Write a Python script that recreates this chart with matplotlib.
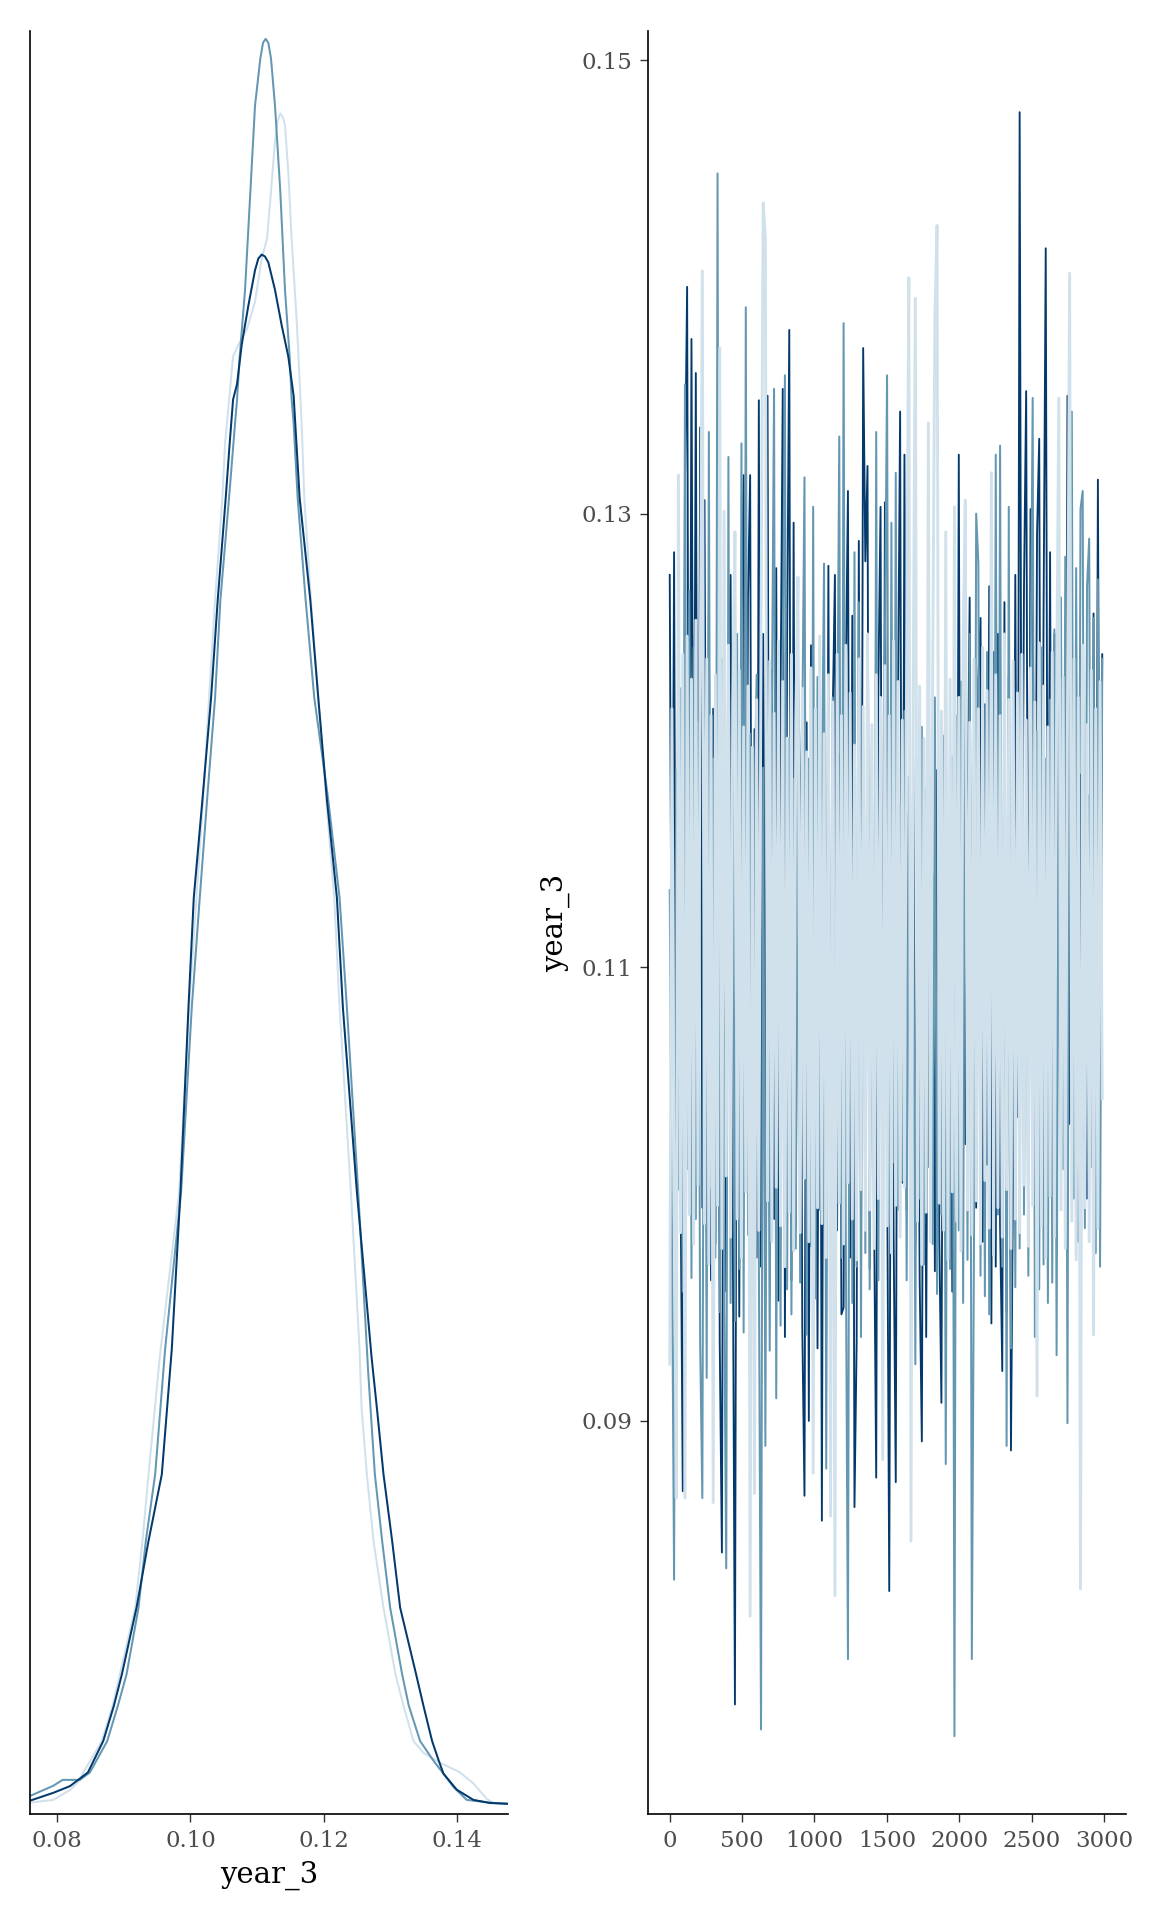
import numpy as np
import matplotlib
matplotlib.use("Agg")
import matplotlib.pyplot as plt

plt.rcParams['font.family'] = ['DejaVu Serif']

param = "year_3"
chain_colors = ["#d1e1ec", "#6497b1", "#03396c"]  # chain 1 (light), 2 (mid), 3 (dark)

# ---- density overlay ----
dens_x_light = [0.0759, 0.0794, 0.0819, 0.0834, 0.0839, 0.0867, 0.0883, 0.0894, 0.0917, 0.0928,
                0.0937, 0.0954, 0.0983, 0.0998, 0.1009, 0.1019, 0.1028, 0.1037, 0.1048, 0.1052,
                0.1057, 0.1064, 0.1072, 0.1085, 0.1097, 0.1107, 0.1115, 0.1121, 0.1127, 0.1131,
                0.1135, 0.1139, 0.1142, 0.1147, 0.1152, 0.1160, 0.1167, 0.1171, 0.1181, 0.1192,
                0.1204, 0.1216, 0.1224, 0.1241, 0.1254, 0.1257, 0.1265, 0.1275, 0.1290, 0.1308,
                0.1320, 0.1335, 0.1350, 0.1375, 0.1405, 0.1425, 0.1445, 0.1455, 0.1477]
dens_y_light = [0.03, 0.10, 0.35, 0.60, 0.80, 1.6, 2.5, 3.3, 5.0, 6.7,
                8.4, 11.4, 15.6, 20.3, 23.1, 25.6, 28.2, 30.7, 33.3, 34.7,
                35.6, 36.9, 37.2, 37.6, 38.3, 39.4, 39.9, 41.1, 42.4, 42.9,
                43.1, 43.0, 42.8, 41.6, 39.9, 37.7, 35.2, 33.3, 30.7, 28.2,
                25.6, 23.1, 20.3, 15.6, 11.6, 10.1, 8.4, 6.7, 5.0, 3.3,
                2.5, 1.6, 1.3, 1.05, 0.80, 0.52, 0.13, 0.02, 0.0]

dens_x_mid = [0.0759, 0.0794, 0.0808, 0.0834, 0.0849, 0.0875, 0.0891, 0.0904, 0.0922, 0.0933,
              0.0947, 0.0962, 0.0986, 0.1002, 0.1014, 0.1025, 0.1037, 0.1045, 0.1058, 0.1067,
              0.1070, 0.1074, 0.1082, 0.1090, 0.1097, 0.1105, 0.1109, 0.1113, 0.1117, 0.1121,
              0.1127, 0.1135, 0.1142, 0.1149, 0.1152, 0.1155, 0.1161, 0.1173, 0.1186, 0.1207,
              0.1224, 0.1235, 0.1252, 0.1267, 0.1277, 0.1288, 0.1300, 0.1318, 0.1328, 0.1345,
              0.1365, 0.1380, 0.1395, 0.1415, 0.1450, 0.1477]
dens_y_mid = [0.20, 0.46, 0.61, 0.61, 0.80, 1.6, 2.5, 3.3, 5.0, 6.7,
              8.4, 11.6, 15.6, 20.3, 23.1, 25.6, 28.2, 30.7, 33.3, 35.2,
              35.8, 36.9, 38.6, 41.1, 43.3, 44.5, 44.9, 45.0, 44.9, 44.5,
              43.3, 41.1, 38.6, 36.9, 35.8, 35.2, 33.3, 30.7, 28.2, 25.6,
              23.1, 20.3, 15.6, 11.0, 8.4, 6.7, 5.0, 3.3, 2.5, 1.6,
              1.1, 0.77, 0.43, 0.10, 0.03, 0.0]

dens_x_dark = [0.0759, 0.0794, 0.0819, 0.0846, 0.0869, 0.0885, 0.0897, 0.0919, 0.0937, 0.0957,
               0.0972, 0.0985, 0.0997, 0.1005, 0.1018, 0.1031, 0.1041, 0.1053, 0.1059, 0.1064,
               0.1070, 0.1077, 0.1087, 0.1097, 0.1102, 0.1107, 0.1112, 0.1117, 0.1127, 0.1137,
               0.1147, 0.1155, 0.1164, 0.1180, 0.1192, 0.1205, 0.1220, 0.1229, 0.1250, 0.1272,
               0.1280, 0.1290, 0.1303, 0.1315, 0.1339, 0.1350, 0.1363, 0.1373, 0.1380, 0.1400,
               0.1425, 0.1450, 0.1477]
dens_y_dark = [0.08, 0.28, 0.45, 0.80, 1.6, 2.5, 3.3, 5.0, 6.7, 8.4,
               11.6, 15.6, 20.3, 23.1, 25.6, 28.2, 30.7, 33.3, 34.7, 35.8,
               36.2, 37.2, 38.2, 39.1, 39.4, 39.5, 39.45, 39.3, 38.6, 37.7,
               36.9, 35.9, 33.3, 30.7, 28.2, 25.6, 23.1, 20.3, 15.6, 11.4,
               10.1, 8.4, 6.7, 5.0, 3.3, 2.5, 1.6, 1.1, 0.77, 0.36,
               0.10, 0.02, 0.0]

# ---- trace (envelope, every 15th iteration) ----
iterations = np.arange(1, 3001, 15)

trace_dark = [
    0.1273, 0.1052, 0.1283, 0.0981, 0.1280, 0.1003, 0.0869, 0.1312, 0.1400, 0.1048,
    0.1377, 0.1096, 0.1362, 0.1021, 0.1338, 0.0994, 0.1306, 0.1067, 0.1259, 0.0962,
    0.1214, 0.0978, 0.1238, 0.0935, 0.0842, 0.1191, 0.0957, 0.1226, 0.1273, 0.0988,
    0.0775, 0.1182, 0.0946, 0.1249, 0.1317, 0.1002, 0.1263, 0.1317, 0.0969, 0.1205,
    0.0972, 0.1350, 0.0968, 0.1247, 0.1006, 0.1352, 0.1008, 0.1231, 0.0989, 0.1276,
    0.0953, 0.1218, 0.1355, 0.0937, 0.1244, 0.1381, 0.0962, 0.1296, 0.0985, 0.1229,
    0.1183, 0.0941, 0.0867, 0.1208, 0.0900, 0.1242, 0.0976, 0.1163, 0.0932, 0.1225,
    0.0856, 0.1187, 0.0991, 0.1277, 0.0958, 0.1212, 0.1273, 0.0984, 0.1194, 0.0947,
    0.0950, 0.1226, 0.1310, 0.0972, 0.1255, 0.0862, 0.0935, 0.1288, 0.1001, 0.1373,
    0.1279, 0.1321, 0.0967, 0.1196, 0.0993, 0.0875, 0.1224, 0.1303, 0.0969, 0.1305,
    0.1018, 0.0825, 0.1174, 0.0983, 0.0873, 0.1212, 0.1345, 0.1005, 0.1326, 0.0993,
    0.1168, 0.1031, 0.1193, 0.0978, 0.1157, 0.0962, 0.0891, 0.1183, 0.0937, 0.1139,
    0.1072, 0.1141, 0.0966, 0.1187, 0.0982, 0.0908, 0.1162, 0.1231, 0.0991, 0.1178,
    0.0957, 0.1205, 0.1014, 0.1326, 0.0978, 0.1194, 0.1022, 0.1158, 0.1263, 0.0985,
    0.1189, 0.0994, 0.1227, 0.1254, 0.0979, 0.1216, 0.1013, 0.1268, 0.0943, 0.1239,
    0.0968, 0.1247, 0.0986, 0.0922, 0.1261, 0.0948, 0.1229, 0.0887, 0.1012, 0.1273,
    0.1034, 0.1477, 0.1096, 0.1268, 0.1354, 0.1042, 0.1302, 0.1275, 0.1057, 0.1291,
    0.1333, 0.1018, 0.1256, 0.1417, 0.1079, 0.1283, 0.1003, 0.1247, 0.0988, 0.1236,
    0.1012, 0.1191, 0.0995, 0.1352, 0.1031, 0.1167, 0.1008, 0.1203, 0.0979, 0.1185,
    0.1024, 0.1152, 0.0998, 0.1176, 0.1041, 0.1256, 0.1013, 0.1315, 0.1069, 0.1238,
]

trace_mid = [
    0.1134, 0.0982, 0.0830, 0.1187, 0.1002, 0.1223, 0.0957, 0.1357, 0.1011, 0.1266,
    0.0963, 0.1241, 0.0989, 0.1208, 0.0934, 0.0866, 0.1195, 0.0919, 0.1336, 0.1003,
    0.1192, 0.0972, 0.1450, 0.0948, 0.1236, 0.0961, 0.0835, 0.1325, 0.0952, 0.1218,
    0.0944, 0.1247, 0.0967, 0.1331, 0.0939, 0.1391, 0.0982, 0.1203, 0.0956, 0.1174,
    0.1229, 0.0973, 0.0764, 0.1188, 0.0889, 0.1157, 0.0931, 0.1214, 0.1355, 0.0910,
    0.1172, 0.0942, 0.1236, 0.1361, 0.0958, 0.1201, 0.0947, 0.1183, 0.0976, 0.1245,
    0.0961, 0.1207, 0.1316, 0.0938, 0.1192, 0.0977, 0.1303, 0.0954, 0.1228, 0.0993,
    0.1174, 0.1278, 0.0879, 0.1196, 0.0969, 0.1219, 0.0946, 0.1185, 0.1334, 0.0972,
    0.1384, 0.0983, 0.0795, 0.1214, 0.0952, 0.1283, 0.0968, 0.1261, 0.0937, 0.1198,
    0.0974, 0.1236, 0.0958, 0.1187, 0.0981, 0.1336, 0.0962, 0.1208, 0.0995, 0.1242,
    0.1361, 0.0987, 0.1296, 0.1014, 0.1318, 0.0993, 0.1172, 0.1006, 0.1213, 0.0962,
    0.1184, 0.0979, 0.1157, 0.0925, 0.1192, 0.0998, 0.1206, 0.0969, 0.1179, 0.1012,
    0.1183, 0.0978, 0.1219, 0.0956, 0.1174, 0.0991, 0.1202, 0.0881, 0.1165, 0.0967,
    0.1193, 0.0761, 0.1211, 0.0984, 0.1226, 0.0952, 0.1300, 0.0971, 0.1247, 0.0795,
    0.0982, 0.1300, 0.1278, 0.0964, 0.1208, 0.0955, 0.1239, 0.0947, 0.1216, 0.0973,
    0.1326, 0.0991, 0.1330, 0.0968, 0.1227, 0.0889, 0.1303, 0.0932, 0.1211, 0.0959,
    0.1198, 0.0976, 0.1237, 0.0991, 0.1185, 0.0964, 0.1223, 0.1351, 0.0937, 0.1204,
    0.0958, 0.1241, 0.0969, 0.1192, 0.0952, 0.1218, 0.0961, 0.1249, 0.0929, 0.1207,
    0.1263, 0.1011, 0.1281, 0.0899, 0.1297, 0.1345, 0.0998, 0.1276, 0.1021, 0.1302,
    0.1310, 0.0985, 0.1268, 0.1289, 0.1012, 0.1254, 0.0974, 0.1271, 0.0968, 0.1236,
]

trace_light = [
    0.0925, 0.1214, 0.1012, 0.0866, 0.1317, 0.0983, 0.1238, 0.0866, 0.1246, 0.0991,
    0.1227, 0.0978, 0.1253, 0.1004, 0.1219, 0.1407, 0.0987, 0.1236, 0.0969, 0.1211,
    0.0864, 0.1229, 0.0995, 0.1373, 0.0976, 0.1301, 0.1008, 0.1242, 0.0981, 0.1218,
    0.1292, 0.0989, 0.1231, 0.0972, 0.1206, 0.1001, 0.1224, 0.0814, 0.1197, 0.0868,
    0.1218, 0.0984, 0.1249, 0.1437, 0.1421, 0.0997, 0.1235, 0.0979, 0.1212, 0.1003,
    0.1244, 0.0986, 0.1226, 0.0968, 0.1201, 0.0992, 0.1238, 0.0975, 0.1209, 0.1272,
    0.0983, 0.1223, 0.1007, 0.1195, 0.0979, 0.1232, 0.0877, 0.1214, 0.0994, 0.1246,
    0.0987, 0.1203, 0.0972, 0.1229, 0.0858, 0.1217, 0.0823, 0.1238, 0.0996, 0.1211,
    0.0978, 0.1242, 0.1005, 0.1221, 0.0989, 0.1198, 0.0971, 0.1236, 0.1002, 0.1215,
    0.0984, 0.1247, 0.0993, 0.1207, 0.0976, 0.1229, 0.0998, 0.1219, 0.0883, 0.1233,
    0.0986, 0.1211, 0.0974, 0.1244, 0.0995, 0.1226, 0.0981, 0.1209, 0.1003, 0.1237,
    0.1404, 0.0847, 0.1218, 0.1395, 0.0988, 0.1224, 0.0969, 0.1201, 0.0992, 0.1340,
    0.0979, 0.1232, 0.1387, 0.1427, 0.0996, 0.1213, 0.0984, 0.1292, 0.0971, 0.1227,
    0.1001, 0.1303, 0.0988, 0.1219, 0.0975, 0.1245, 0.1306, 0.0993, 0.1208, 0.0982,
    0.1236, 0.0997, 0.1214, 0.0978, 0.1241, 0.1006, 0.1222, 0.0985, 0.1318, 0.0973,
    0.1229, 0.0994, 0.1211, 0.0981, 0.1247, 0.1002, 0.1218, 0.0976, 0.1235, 0.0989,
    0.1221, 0.0983, 0.1238, 0.1004, 0.1209, 0.0977, 0.1232, 0.0995, 0.1217, 0.0911,
    0.1243, 0.0986, 0.1224, 0.0972, 0.1206, 0.0999, 0.1239, 0.0981, 0.1215, 0.1351,
    0.0993, 0.1228, 0.0976, 0.1212, 0.1406, 0.0988, 0.1236, 0.0971, 0.1219, 0.0826,
    0.1242, 0.0994, 0.1207, 0.0979, 0.1231, 0.0938, 0.1214, 0.0985, 0.1226, 0.1042,
]

dens_x_ticks = [0.08, 0.10, 0.12, 0.14]
trace_y_ticks = [0.09, 0.11, 0.13, 0.15]
trace_x_ticks = [0, 500, 1000, 1500, 2000, 2500, 3000]

W, H = 1152, 1920
fig = plt.figure(figsize=(W / 100, H / 100), dpi=100)

ax1 = fig.add_axes([30 / W, 1 - 1814 / H, 478 / W, 1783 / H])
ax2 = fig.add_axes([648 / W, 1 - 1814 / H, 478 / W, 1783 / H])

tick_col = "#4d4d4d"
for ax in (ax1, ax2):
    for s in ("top", "right"):
        ax.spines[s].set_visible(False)
    for s in ("left", "bottom"):
        ax.spines[s].set_linewidth(1.2)
        ax.spines[s].set_color("black")
    ax.tick_params(axis="both", length=5.5, width=1.0, color="#333333",
                   labelsize=16.5, labelcolor=tick_col, pad=6)

# density panel
for xs, ys, c in ((dens_x_light, dens_y_light, chain_colors[0]),
                  (dens_x_mid, dens_y_mid, chain_colors[1]),
                  (dens_x_dark, dens_y_dark, chain_colors[2])):
    ax1.plot(xs, ys, color=c, lw=1.45, solid_joinstyle="round", solid_capstyle="round")
ax1.set_xlim(0.0759, 0.1477)
ax1.set_ylim(-0.26, 45.2)
ax1.set_yticks([])
ax1.set_xticks(dens_x_ticks)
ax1.set_xticklabels([f"{v:.2f}" for v in dens_x_ticks])
ax1.set_xlabel(param, fontsize=21, color="black", labelpad=6)

# trace panel
ax2.plot(iterations, trace_dark, color=chain_colors[2], lw=1.35)
ax2.plot(iterations, trace_mid, color=chain_colors[1], lw=1.45)
ax2.plot(iterations, trace_light, color=chain_colors[0], lw=2.1)
ax2.set_xlim(-149, 3150)
ax2.set_ylim(0.07267, 0.15128)
ax2.set_yticks(trace_y_ticks)
ax2.set_yticklabels([f"{v:.2f}" for v in trace_y_ticks])
ax2.set_xticks(trace_x_ticks)
ax2.set_xticklabels([str(v) for v in trace_x_ticks])
ax2.set_ylabel(param, fontsize=21, color="black", labelpad=8)

fig.savefig("out.png", dpi=100, facecolor="white")
